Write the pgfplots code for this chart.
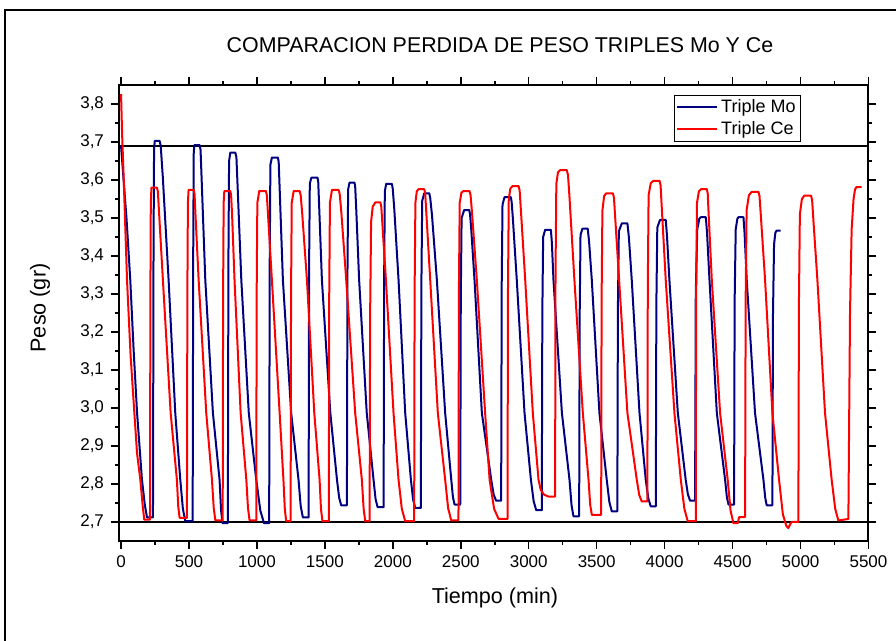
\documentclass[border=0pt]{standalone}
\usepackage{fontspec}
\setmainfont{Liberation Sans}
\usepackage{pgfplots}
\pgfplotsset{compat=1.18}
\definecolor{moblue}{RGB}{0,0,128}
\definecolor{cered}{RGB}{255,0,0}

\begin{document}
\begin{tikzpicture}[x=0.5pt,y=-0.5pt]
\useasboundingbox (0,0) rectangle (896,641);
% outer frame
\draw[line width=1pt] (4.5,641) -- (4.5,10) -- (896,10);

\begin{axis}[
  at={(59.5pt,-270.5pt)}, anchor=south west,
  scale only axis, width=374.75pt, height=228pt,
  xmin=-15, xmax=5500, ymin=2.65, ymax=3.85,
  xtick={0,500,...,5500}, minor x tick num=1,
  ytick={2.7,2.8,2.9,3.0,3.1,3.2,3.3,3.4,3.5,3.6,3.7,3.8}, minor y tick num=1,
  xtick pos=both, ytick pos=both,
  tick align=outside, major tick length=4pt, minor tick length=2pt,
  every tick/.style={black, line width=0.75pt},
  axis line style={line width=1pt},
  ticklabel style={font=\fontsize{8.5}{10}\selectfont},
  /pgf/number format/assume math mode=true,
  yticklabel style={/pgf/number format/.cd, fixed, fixed zerofill, precision=1, use comma},
  xticklabel style={/pgf/number format/.cd, fixed, precision=0, 1000 sep={}},
  scaled x ticks=false, scaled y ticks=false,
  legend style={at={(0.910,0.979)}, anchor=north east, draw=black, line width=0.5pt,
    font=\fontsize{9}{10.5}\selectfont, inner xsep=1pt, inner ysep=0.5pt, row sep=0pt,
    nodes={inner sep=1.5pt}, cells={anchor=west}},
  legend image code/.code={\draw[#1] (0pt,0pt) -- (20pt,0pt);},
  every axis plot/.append style={line join=round},
]
% reference levels
\addplot[black, line width=0.75pt, forget plot] coordinates {(-15,3.69) (5500,3.69)};
\addplot[black, line width=0.75pt, forget plot] coordinates {(-15,2.70) (5500,2.70)};

% Triple Mo
\addplot[moblue, line width=1pt] coordinates {
(0,3.690) (40,3.500) (68,3.337) (93,3.150) (118,2.987) (154,2.811) (175,2.745) (191,2.712) (230,2.712)
(235,2.712) (239,3.41) (243,3.68) (248,3.703) (284,3.703) (292,3.69) (307,3.61) (350,3.337) (399,2.987) (436,2.811) (455,2.735) (473,2.702) (522,2.702)
(527,2.702) (531,3.40) (535,3.67) (539,3.692) (578,3.692) (585,3.68) (593,3.603) (620,3.337) (676,2.987) (725,2.811) (736,2.731) (747,2.697) (784,2.697)
(786,2.697) (790,3.38) (795,3.65) (804,3.672) (841,3.672) (849,3.66) (857,3.59) (885,3.337) (940,2.987) (995,2.811) (1025,2.73) (1052,2.697) (1086,2.697)
(1090,2.697) (1094,3.38) (1099,3.64) (1110,3.659) (1154,3.659) (1160,3.648) (1167,3.579) (1191,3.337) (1252,2.987) (1306,2.811) (1322,2.742) (1338,2.712) (1375,2.712)
(1380,2.712) (1384,3.38) (1389,3.59) (1400,3.606) (1446,3.606) (1451,3.595) (1457,3.539) (1478,3.337) (1540,2.987) (1589,2.811) (1605,2.764) (1620,2.744) (1657,2.744)
(1662,2.744) (1666,3.35) (1671,3.575) (1681,3.593) (1718,3.593) (1723,3.582) (1730,3.529) (1752,3.337) (1808,2.987) (1858,2.811) (1873,2.76) (1888,2.739) (1927,2.739)
(1932,2.739) (1936,3.34) (1941,3.57) (1951,3.590) (1993,3.590) (1999,3.578) (2010,3.527) (2042,3.337) (2091,2.987) (2133,2.811) (2149,2.759) (2165,2.737) (2202,2.737)
(2206,2.737) (2210,3.32) (2216,3.545) (2231,3.565) (2268,3.565) (2275,3.553) (2288,3.508) (2324,3.337) (2385,2.987) (2430,2.811) (2442,2.766) (2454,2.746) (2491,2.746)
(2496,2.746) (2500,3.29) (2506,3.50) (2525,3.521) (2562,3.521) (2568,3.51) (2576,3.475) (2601,3.337) (2655,2.987) (2724,2.811) (2742,2.772) (2760,2.756) (2795,2.756)
(2797,2.756) (2801,3.32) (2807,3.535) (2822,3.555) (2868,3.555) (2874,3.543) (2883,3.50) (2912,3.337) (2969,2.987) (3016,2.811) (3036,2.755) (3055,2.731) (3092,2.731)
(3096,2.731) (3100,3.25) (3106,3.45) (3121,3.469) (3163,3.469) (3170,3.436) (3182,3.337) (3244,2.987) (3300,2.811) (3315,2.744) (3329,2.715) (3366,2.715)
(3371,2.715) (3375,3.25) (3381,3.455) (3395,3.472) (3434,3.472) (3444,3.438) (3464,3.337) (3520,2.987) (3574,2.811) (3593,2.753) (3611,2.728) (3648,2.728)
(3652,2.728) (3656,3.26) (3663,3.465) (3685,3.486) (3726,3.486) (3737,3.449) (3758,3.337) (3815,2.987) (3861,2.811) (3880,2.762) (3898,2.741) (3930,2.741)
(3935,2.741) (3939,3.27) (3946,3.475) (3966,3.495) (4008,3.495) (4017,3.455) (4035,3.337) (4097,2.987) (4155,2.811) (4171,2.773) (4187,2.756) (4217,2.756)
(4224,2.756) (4229,3.30) (4240,3.47) (4255,3.498) (4266,3.502) (4303,3.502) (4312,3.461) (4330,3.337) (4384,2.987) (4445,2.811) (4458,2.765) (4470,2.746) (4505,2.746)
(4511,2.746) (4515,3.28) (4523,3.47) (4535,3.498) (4543,3.502) (4580,3.502) (4588,3.461) (4604,3.337) (4665,2.987) (4727,2.811) (4740,2.764) (4751,2.744) (4788,2.744)
(4793,2.744) (4797,3.24) (4805,3.43) (4815,3.462) (4825,3.467) (4854,3.467)
};
\addlegendentry{Triple Mo}

% Triple Ce
\addplot[cered, line width=1pt] coordinates {
(0,3.826) (8,3.72) (20,3.60) (44,3.337) (70,3.14) (98,2.987) (118,2.88) (142,2.811) (160,2.74) (171,2.706) (203,2.706)
(213,2.706) (216,3.30) (219,3.54) (224,3.58) (264,3.58) (271,3.57) (279,3.519) (308,3.337) (365,2.987) (411,2.811) (421,2.741) (431,2.711) (478,2.711)
(485,2.711) (488,3.30) (492,3.54) (497,3.574) (534,3.574) (541,3.563) (547,3.515) (571,3.337) (627,2.987) (669,2.811) (682,2.737) (694,2.704) (738,2.704)
(748,2.704) (751,3.30) (755,3.54) (760,3.571) (804,3.571) (810,3.56) (817,3.51) (835,3.337) (880,2.987) (922,2.811) (934,2.737) (946,2.704) (988,2.704)
(995,2.704) (998,3.30) (1003,3.54) (1017,3.571) (1066,3.571) (1073,3.56) (1081,3.512) (1110,3.337) (1167,2.987) (1195,2.811) (1205,2.735) (1215,2.702) (1246,2.702)
(1248,2.702) (1251,3.30) (1256,3.54) (1270,3.571) (1314,3.571) (1322,3.56) (1333,3.512) (1368,3.337) (1422,2.987) (1461,2.811) (1471,2.735) (1482,2.702) (1527,2.702)
(1529,2.702) (1532,3.30) (1537,3.54) (1552,3.574) (1601,3.574) (1609,3.563) (1621,3.515) (1657,3.337) (1723,2.987) (1772,2.811) (1785,2.735) (1797,2.702) (1826,2.702)
(1829,2.702) (1833,3.25) (1840,3.49) (1852,3.53) (1871,3.541) (1908,3.541) (1915,3.53) (1922,3.49) (1949,3.337) (2005,2.987) (2042,2.811) (2066,2.735) (2091,2.702) (2152,2.702)
(2157,2.702) (2160,3.30) (2166,3.54) (2176,3.57) (2189,3.576) (2231,3.576) (2238,3.565) (2246,3.516) (2275,3.337) (2331,2.987) (2385,2.811) (2407,2.736) (2430,2.704) (2478,2.704)
(2483,2.704) (2486,3.30) (2492,3.54) (2505,3.567) (2520,3.571) (2564,3.571) (2572,3.56) (2583,3.512) (2618,3.337) (2679,2.987) (2712,2.811) (2745,2.735) (2778,2.708) (2839,2.708)
(2844,2.708) (2847,3.30) (2853,3.55) (2865,3.578) (2881,3.584) (2925,3.584) (2933,3.573) (2942,3.522) (2974,3.337) (3030,2.987) (3072,2.811) (3088,2.785) (3112,2.772) (3145,2.767) (3190,2.767)
(3194,2.767) (3197,3.35) (3203,3.59) (3215,3.62) (3231,3.626) (3280,3.626) (3289,3.613) (3300,3.554) (3336,3.337) (3398,2.987) (3440,2.811) (3452,2.746) (3464,2.719) (3526,2.719)
(3533,2.719) (3536,3.28) (3542,3.52) (3555,3.558) (3570,3.565) (3619,3.565) (3627,3.554) (3635,3.508) (3665,3.337) (3726,2.987) (3795,2.811) (3813,2.771) (3832,2.754) (3869,2.754)
(3873,2.754) (3876,3.32) (3882,3.56) (3898,3.592) (3918,3.598) (3962,3.598) (3970,3.587) (3978,3.533) (4008,3.337) (4072,2.987) (4119,2.811) (4145,2.735) (4170,2.702) (4224,2.702)
(4229,2.702) (4232,3.30) (4238,3.54) (4252,3.57) (4268,3.576) (4310,3.576) (4317,3.565) (4323,3.516) (4347,3.337) (4408,2.987) (4464,2.811) (4485,2.73) (4506,2.697) (4538,2.697) (4548,2.713) (4592,2.713)
(4596,3.28) (4603,3.52) (4620,3.56) (4641,3.569) (4690,3.569) (4698,3.558) (4707,3.511) (4739,3.337) (4793,2.987) (4842,2.811) (4870,2.72) (4895,2.69) (4910,2.684) (4925,2.695) (4935,2.70) (4977,2.70)
(4984,2.70) (4988,3.27) (4995,3.51) (5010,3.55) (5028,3.559) (5077,3.559) (5085,3.548) (5093,3.503) (5124,3.337) (5180,2.987) (5229,2.811) (5255,2.735) (5278,2.704) (5315,2.706) (5352,2.708)
(5364,3.25) (5376,3.47) (5390,3.55) (5401,3.575) (5410,3.581) (5450,3.581)
};
\addlegendentry{Triple Ce}
\end{axis}

% title and axis labels
\node[font=\fontsize{10.7}{13}\selectfont] at (500,45) {COMPARACION PERDIDA DE PESO TRIPLES Mo Y Ce};
\node[font=\fontsize{10.8}{13}\selectfont] at (495,598) {Tiempo (min)};
\node[font=\fontsize{10.8}{13}\selectfont, rotate=90] at (40,308) {Peso (gr)};
\end{tikzpicture}
\end{document}
